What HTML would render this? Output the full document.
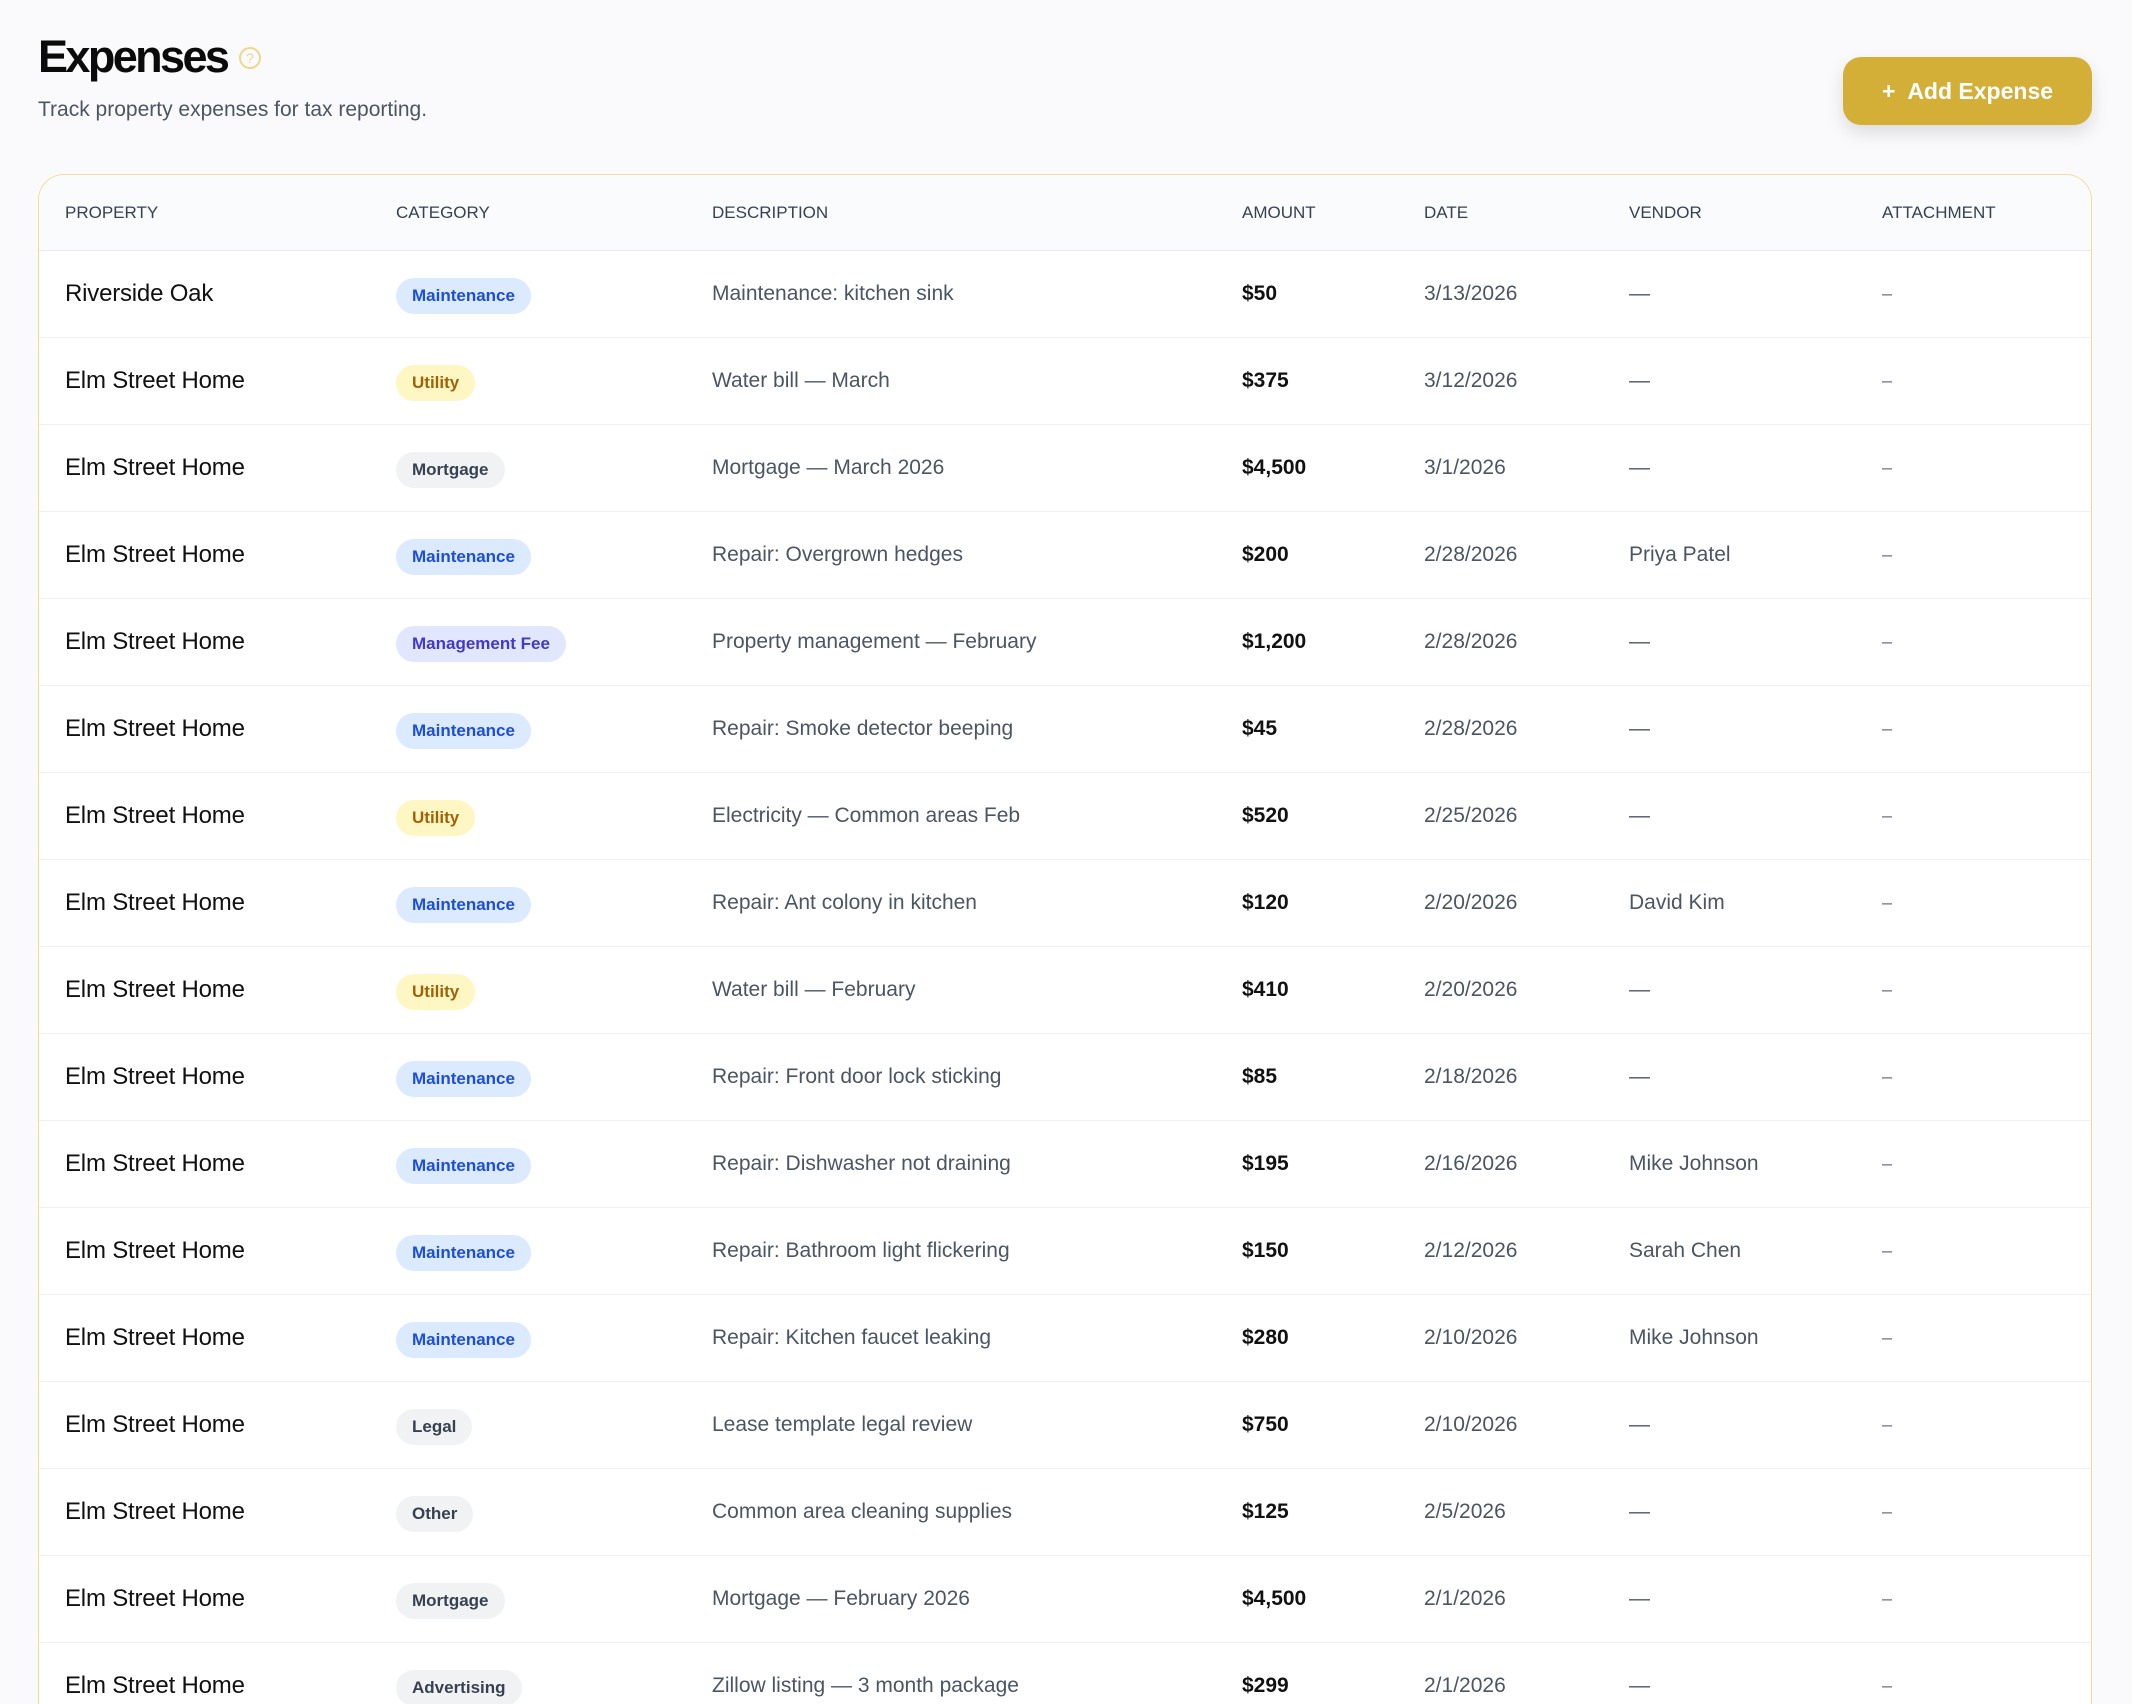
<!DOCTYPE html>
<html><head><meta charset="utf-8"><style>
*{box-sizing:border-box;margin:0;padding:0}
html,body{width:2132px;height:1700px;overflow:hidden;background:#fafafc;font-family:"Liberation Sans",sans-serif}
h1{position:absolute;left:38px;top:31px;font-size:45px;font-weight:700;color:#0b0b0b;letter-spacing:-2.6px}
.q{position:absolute;left:239px;top:47px;width:22px;height:22px;border:2px solid #f0d68a;border-radius:50%;color:#f0d68a;font-size:14px;text-align:center;line-height:18px}
.sub{position:absolute;left:38px;top:98px;font-size:21px;color:#4b5563}
.btn{position:absolute;left:1843px;top:57px;width:249px;height:68px;background:#d4af38;border-radius:18px;color:#fff;font-size:23px;font-weight:700;line-height:68px;text-align:center;box-shadow:0 8px 18px rgba(0,0,0,0.12)}
.card{position:absolute;left:38px;top:174px;width:2054px;height:1530px;background:#fff;border:1.5px solid #f2dc92;border-bottom:none;border-radius:26px 26px 0 0;overflow:hidden}
.hd{height:76px;background:#fafbfd;border-bottom:1.5px solid #e8eaef;position:relative}
.hd span{position:absolute;top:28px;font-size:17px;color:#374151}
.row{height:87px;border-bottom:1.5px solid #eef0f3;position:relative}
.row>*{position:absolute;top:50%;transform:translateY(-50%)}
.p{left:26px;font-size:24px;color:#111;font-weight:500;letter-spacing:-0.2px}
.b{left:357px;height:36px;line-height:36px;padding:0 16px;border-radius:18px;font-size:17px;font-weight:700;margin-top:2px}
.m{background:#dbeafe;color:#1d4ed8}.u{background:#fef7c3;color:#a16207}.g{background:#f1f2f4;color:#374151}.f{background:#e0e7ff;color:#4338ca}
.d{left:673px;font-size:21px;color:#4b5563}
.a{left:1203px;font-size:21px;font-weight:700;color:#111}
.t{left:1385px;font-size:21px;color:#4b5563}
.v{left:1590px;font-size:21px;color:#4b5563}
.x{left:1843px;font-size:18px;color:#6b7280}
</style></head><body>
<h1>Expenses</h1><div class="q">?</div>
<div class="sub">Track property expenses for tax reporting.</div>
<div class="btn">+&nbsp; Add Expense</div>
<div class="card">
<div class="hd"><span style="left:26px">PROPERTY</span><span style="left:357px">CATEGORY</span><span style="left:673px">DESCRIPTION</span><span style="left:1203px">AMOUNT</span><span style="left:1385px">DATE</span><span style="left:1590px">VENDOR</span><span style="left:1843px">ATTACHMENT</span></div>
<div class="row"><span class="p">Riverside Oak</span><span class="b m">Maintenance</span><span class="d">Maintenance: kitchen sink</span><span class="a">$50</span><span class="t">3/13/2026</span><span class="v">—</span><span class="x">–</span></div>
<div class="row"><span class="p">Elm Street Home</span><span class="b u">Utility</span><span class="d">Water bill — March</span><span class="a">$375</span><span class="t">3/12/2026</span><span class="v">—</span><span class="x">–</span></div>
<div class="row"><span class="p">Elm Street Home</span><span class="b g">Mortgage</span><span class="d">Mortgage — March 2026</span><span class="a">$4,500</span><span class="t">3/1/2026</span><span class="v">—</span><span class="x">–</span></div>
<div class="row"><span class="p">Elm Street Home</span><span class="b m">Maintenance</span><span class="d">Repair: Overgrown hedges</span><span class="a">$200</span><span class="t">2/28/2026</span><span class="v">Priya Patel</span><span class="x">–</span></div>
<div class="row"><span class="p">Elm Street Home</span><span class="b f">Management Fee</span><span class="d">Property management — February</span><span class="a">$1,200</span><span class="t">2/28/2026</span><span class="v">—</span><span class="x">–</span></div>
<div class="row"><span class="p">Elm Street Home</span><span class="b m">Maintenance</span><span class="d">Repair: Smoke detector beeping</span><span class="a">$45</span><span class="t">2/28/2026</span><span class="v">—</span><span class="x">–</span></div>
<div class="row"><span class="p">Elm Street Home</span><span class="b u">Utility</span><span class="d">Electricity — Common areas Feb</span><span class="a">$520</span><span class="t">2/25/2026</span><span class="v">—</span><span class="x">–</span></div>
<div class="row"><span class="p">Elm Street Home</span><span class="b m">Maintenance</span><span class="d">Repair: Ant colony in kitchen</span><span class="a">$120</span><span class="t">2/20/2026</span><span class="v">David Kim</span><span class="x">–</span></div>
<div class="row"><span class="p">Elm Street Home</span><span class="b u">Utility</span><span class="d">Water bill — February</span><span class="a">$410</span><span class="t">2/20/2026</span><span class="v">—</span><span class="x">–</span></div>
<div class="row"><span class="p">Elm Street Home</span><span class="b m">Maintenance</span><span class="d">Repair: Front door lock sticking</span><span class="a">$85</span><span class="t">2/18/2026</span><span class="v">—</span><span class="x">–</span></div>
<div class="row"><span class="p">Elm Street Home</span><span class="b m">Maintenance</span><span class="d">Repair: Dishwasher not draining</span><span class="a">$195</span><span class="t">2/16/2026</span><span class="v">Mike Johnson</span><span class="x">–</span></div>
<div class="row"><span class="p">Elm Street Home</span><span class="b m">Maintenance</span><span class="d">Repair: Bathroom light flickering</span><span class="a">$150</span><span class="t">2/12/2026</span><span class="v">Sarah Chen</span><span class="x">–</span></div>
<div class="row"><span class="p">Elm Street Home</span><span class="b m">Maintenance</span><span class="d">Repair: Kitchen faucet leaking</span><span class="a">$280</span><span class="t">2/10/2026</span><span class="v">Mike Johnson</span><span class="x">–</span></div>
<div class="row"><span class="p">Elm Street Home</span><span class="b g">Legal</span><span class="d">Lease template legal review</span><span class="a">$750</span><span class="t">2/10/2026</span><span class="v">—</span><span class="x">–</span></div>
<div class="row"><span class="p">Elm Street Home</span><span class="b g">Other</span><span class="d">Common area cleaning supplies</span><span class="a">$125</span><span class="t">2/5/2026</span><span class="v">—</span><span class="x">–</span></div>
<div class="row"><span class="p">Elm Street Home</span><span class="b g">Mortgage</span><span class="d">Mortgage — February 2026</span><span class="a">$4,500</span><span class="t">2/1/2026</span><span class="v">—</span><span class="x">–</span></div>
<div class="row"><span class="p">Elm Street Home</span><span class="b g">Advertising</span><span class="d">Zillow listing — 3 month package</span><span class="a">$299</span><span class="t">2/1/2026</span><span class="v">—</span><span class="x">–</span></div>
</div>
</body></html>
